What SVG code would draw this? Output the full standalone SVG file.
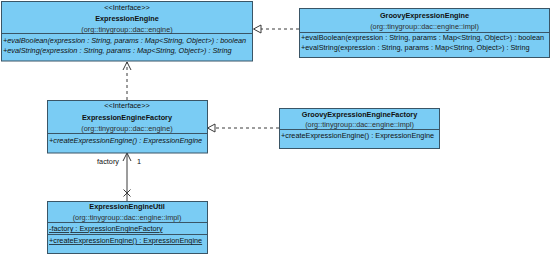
<svg xmlns="http://www.w3.org/2000/svg" width="554" height="256" viewBox="0 0 554 256">
  <style>
    .box { fill: #7ACCF4; stroke: #3A5566; stroke-width: 1; }
    .div { stroke: #3A5566; stroke-width: 1; }
    text { font-family: "Liberation Sans", Arial, sans-serif; font-size: 7.3px; fill: #111111; }
    .c { text-anchor: middle; }
    .b { font-weight: bold; }
    .i { font-style: italic; }
    .pk { fill: #2E2E2E; }
    .u { text-decoration: underline; }
    .dash { fill: none; stroke: #3A3A3A; stroke-width: 1; stroke-dasharray: 3 3; }
    .solid { fill: none; stroke: #3A3A3A; stroke-width: 1; }
    .tri { fill: #FFFFFF; stroke: #3A3A3A; stroke-width: 1; }
  </style>

  <!-- connectors -->
  <g id="connectors">
    <!-- GroovyExpressionEngine realizes ExpressionEngine -->
    <line class="dash" x1="299" y1="29" x2="261" y2="29"/>
    <polygon class="tri" points="253.5,29 261,25 261,33"/>
    <!-- GroovyExpressionEngineFactory realizes ExpressionEngineFactory -->
    <line class="dash" x1="279" y1="128" x2="215" y2="128"/>
    <polygon class="tri" points="207.5,128 215,124 215,132"/>
    <!-- ExpressionEngineFactory depends on ExpressionEngine -->
    <line class="dash" x1="127" y1="100" x2="127" y2="62"/>
    <polyline class="solid" points="123,70 127,62 131,70"/>
    <!-- ExpressionEngineUtil association to ExpressionEngineFactory -->
    <line class="solid" x1="127" y1="201" x2="127" y2="153"/>
    <polyline class="solid" points="123,161 127,153 131,161"/>
    <line class="solid" x1="123.5" y1="189.5" x2="130.5" y2="196.5"/>
    <line class="solid" x1="130.5" y1="189.5" x2="123.5" y2="196.5"/>
    <text x="119" y="164" text-anchor="end">factory</text>
    <text x="137" y="164">1</text>
  </g>

  <!-- ExpressionEngine interface -->
  <g id="ExpressionEngine">
    <rect class="box" x="1.5" y="1.5" width="251" height="59.5"/>
    <line class="div" x1="1.5" y1="33.5" x2="252.5" y2="33.5"/>
    <text class="c" x="127" y="10">&lt;&lt;Interface&gt;&gt;</text>
    <text class="c b" x="127" y="21">ExpressionEngine</text>
    <text class="c pk" x="127" y="31.5">(org::tinygroup::dac::engine)</text>
    <text class="i" x="3" y="43">+evalBoolean(expression : String, params : Map&lt;String, Object&gt;) : boolean</text>
    <text class="i" x="3" y="53">+evalString(expression : String, params : Map&lt;String, Object&gt;) : String</text>
  </g>

  <!-- GroovyExpressionEngine class -->
  <g id="GroovyExpressionEngine">
    <rect class="box" x="299.5" y="8.5" width="250" height="49"/>
    <line class="div" x1="299.5" y1="32.5" x2="549.5" y2="32.5"/>
    <text class="c b" x="424.5" y="18">GroovyExpressionEngine</text>
    <text class="c pk" x="424.5" y="29">(org::tinygroup::dac::engine::impl)</text>
    <text x="301" y="40">+evalBoolean(expression : String, params : Map&lt;String, Object&gt;) : boolean</text>
    <text x="301" y="49.5">+evalString(expression : String, params : Map&lt;String, Object&gt;) : String</text>
  </g>

  <!-- ExpressionEngineFactory interface -->
  <g id="ExpressionEngineFactory">
    <rect class="box" x="47.5" y="100.5" width="160" height="52.5"/>
    <line class="div" x1="47.5" y1="133.5" x2="207.5" y2="133.5"/>
    <text class="c" x="127" y="108">&lt;&lt;Interface&gt;&gt;</text>
    <text class="c b" x="127" y="119.5">ExpressionEngineFactory</text>
    <text class="c pk" x="127" y="131">(org::tinygroup::dac::engine)</text>
    <text class="i" x="49" y="142.5">+createExpressionEngine() : ExpressionEngine</text>
  </g>

  <!-- GroovyExpressionEngineFactory class -->
  <g id="GroovyExpressionEngineFactory">
    <rect class="box" x="279.5" y="108.5" width="160" height="40"/>
    <line class="div" x1="279.5" y1="129.5" x2="439.5" y2="129.5"/>
    <text class="c b" x="359.5" y="116.5">GroovyExpressionEngineFactory</text>
    <text class="c pk" x="359.5" y="127">(org::tinygroup::dac::engine::impl)</text>
    <text x="281" y="138">+createExpressionEngine() : ExpressionEngine</text>
  </g>

  <!-- ExpressionEngineUtil class -->
  <g id="ExpressionEngineUtil">
    <rect class="box" x="47.5" y="201.5" width="160" height="52"/>
    <line class="div" x1="47.5" y1="222.5" x2="207.5" y2="222.5"/>
    <line class="div" x1="47.5" y1="234.5" x2="207.5" y2="234.5"/>
    <text class="c b" x="127" y="209">ExpressionEngineUtil</text>
    <text class="c pk" x="127" y="220">(org::tinygroup::dac::engine::impl)</text>
    <text class="u" x="49" y="231">-factory : ExpressionEngineFactory</text>
    <text class="u" x="49" y="243">+createExpressionEngine() : ExpressionEngine</text>
  </g>
</svg>
